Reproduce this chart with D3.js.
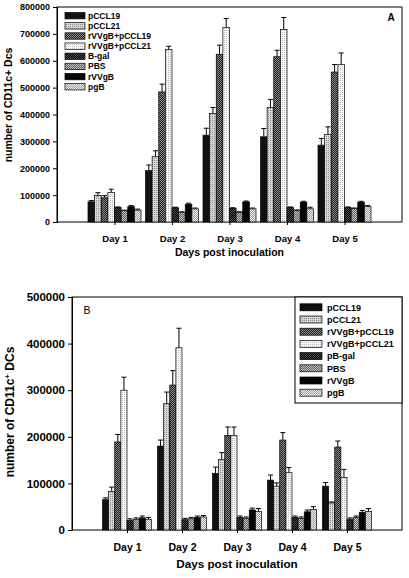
<!DOCTYPE html>
<html><head><meta charset="utf-8">
<script src="https://cdn.jsdelivr.net/npm/d3@7"></script>
<style>body{margin:0;background:#fff}svg{display:block}text{font-family:"Liberation Sans",Arial,sans-serif;font-weight:bold;fill:#000}</style>
</head><body><svg id="c" width="409" height="578"></svg>
<script>
const days = ["Day 1","Day 2","Day 3","Day 4","Day 5"];
const seriesA = ["pCCL19","pCCL21","rVVgB+pCCL19","rVVgB+pCCL21","B-gal","PBS","rVVgB","pgB"];
const seriesB = ["pCCL19","pCCL21","rVVgB+pCCL19","rVVgB+pCCL21","pB-gal","PBS","rVVgB","pgB"];
const ticksA = [0,100000,200000,300000,400000,500000,600000,700000,800000];
const ticksB = [0,100000,200000,300000,400000,500000];

// Panel A means and SEM, one array per series
const meanA_pCCL19 = [75000,191000,323000,317000,286000];
const meanA_pCCL21 = [99000,243000,404000,426000,326000];
const meanA_rVVgBpCCL19 = [90000,484000,624000,615000,558000];
const meanA_rVVgBpCCL21 = [110000,642000,724000,716000,586000];
const meanA_Bgal = [54000,53000,51000,54000,54000];
const meanA_PBS = [42000,36000,36000,43000,50000];
const meanA_rVVgB = [57000,66000,75000,74000,74000];
const meanA_pgB = [44000,49000,49000,49000,57000];
const errA_pCCL19 = [5000,21000,26000,31000,25000];
const errA_pCCL21 = [10000,22000,22000,30000,28000];
const errA_rVVgBpCCL19 = [8000,29000,34000,24000,28000];
const errA_rVVgBpCCL21 = [12000,12000,33000,45000,43000];
const errA_Bgal = [2000,2000,2000,2000,2000];
const errA_PBS = [2000,2000,2000,2000,2000];
const errA_rVVgB = [4000,4000,3000,3000,3000];
const errA_pgB = [4000,3000,3000,6000,4000];

// Panel B
const meanB_pCCL19 = [65000,180000,121000,107000,94000];
const meanB_pCCL21 = [83000,271000,151000,94000,58000];
const meanB_rVVgBpCCL19 = [189000,311000,203000,193000,178000];
const meanB_rVVgBpCCL21 = [300000,391000,203000,123000,113000];
const meanB_pBgal = [21000,22000,27000,27000,23000];
const meanB_PBS = [23000,24000,25000,25000,27000];
const meanB_rVVgB = [26000,27000,43000,39000,38000];
const meanB_pgB = [23000,28000,40000,44000,40000];
const errB_pCCL19 = [4000,13000,14000,11000,8000];
const errB_pCCL21 = [9000,25000,15000,7000,2000];
const errB_rVVgBpCCL19 = [16000,31000,18000,16000,13000];
const errB_rVVgBpCCL21 = [28000,42000,18000,11000,17000];
const errB_pBgal = [3000,3000,3000,3000,3000];
const errB_PBS = [3000,3000,3000,3000,3000];
const errB_rVVgB = [4000,3000,4000,4000,4000];
const errB_pgB = [4000,3000,6000,6000,6000];

const meansA = [meanA_pCCL19,meanA_pCCL21,meanA_rVVgBpCCL19,meanA_rVVgBpCCL21,meanA_Bgal,meanA_PBS,meanA_rVVgB,meanA_pgB];
const errsA = [errA_pCCL19,errA_pCCL21,errA_rVVgBpCCL19,errA_rVVgBpCCL21,errA_Bgal,errA_PBS,errA_rVVgB,errA_pgB];
const meansB = [meanB_pCCL19,meanB_pCCL21,meanB_rVVgBpCCL19,meanB_rVVgBpCCL21,meanB_pBgal,meanB_PBS,meanB_rVVgB,meanB_pgB];
const errsB = [errB_pCCL19,errB_pCCL21,errB_rVVgBpCCL19,errB_rVVgBpCCL21,errB_pBgal,errB_PBS,errB_rVVgB,errB_pgB];

const svg = d3.select("#c");
const defs = svg.append("defs");
// fill patterns
const pats = [
  {id:"p0", type:"solid", c1:"#111"},
  {id:"p1", type:"dot", c1:"#d8d8d8", c2:"#8a8a8a"},
  {id:"p2", type:"check", c1:"#1e1e1e", c2:"#8c8c8c"},
  {id:"p3", type:"dot", c1:"#fafafa", c2:"#b8b8b8"},
  {id:"p4", type:"check", c1:"#000", c2:"#4a4a4a"},
  {id:"p5", type:"check", c1:"#5a5a5a", c2:"#c8c8c8"},
  {id:"p6", type:"solid", c1:"#050505"},
  {id:"p7", type:"check", c1:"#9a9a9a", c2:"#f4f4f4"}
];
pats.forEach(p=>{
  if(p.type==="solid") return;
  const pt = defs.append("pattern").attr("id",p.id).attr("patternUnits","userSpaceOnUse")
    .attr("width",2).attr("height",2);
  pt.append("rect").attr("width",2).attr("height",2).attr("fill",p.c1);
  if(p.type==="check"){
    pt.append("rect").attr("x",0).attr("y",0).attr("width",1).attr("height",1).attr("fill",p.c2);
    pt.append("rect").attr("x",1).attr("y",1).attr("width",1).attr("height",1).attr("fill",p.c2);
  } else {
    pt.append("rect").attr("x",0).attr("y",0).attr("width",1).attr("height",1).attr("fill",p.c2);
  }
});
const fillOf = i => pats[i].type==="solid" ? pats[i].c1 : `url(#${pats[i].id})`;

function panel(cfg){
  const {x0,x1,y0,y1,ymax,ticks,means,errs,series,groupW,tickFont,dayFont,titleFont} = cfg;
  const g = svg.append("g");
  const x = d3.scaleLinear().domain([0,6]).range([x0,x1]);
  const y = d3.scaleLinear().domain([0,ymax]).range([y1,y0]);
  const inner = d3.scaleBand().domain(series).range([-groupW/2,groupW/2]).padding(0);
  // frame
  g.append("rect").attr("x",x0).attr("y",y0).attr("width",x1-x0).attr("height",y1-y0)
    .attr("fill","none").attr("stroke","#000").attr("stroke-width",1);
  // y axis
  const ya = g.append("g").attr("transform",`translate(${x0},0)`)
    .call(d3.axisLeft(y).tickValues(ticks).tickFormat(d3.format("d")).tickSize(4).tickPadding(3));
  ya.select(".domain").attr("stroke","#000");
  ya.selectAll("text").style("font-size",tickFont+"px").style("font-family","Liberation Sans, Arial").style("font-weight","bold");
  // x axis
  const xa = g.append("g").attr("transform",`translate(0,${y1})`)
    .call(d3.axisBottom(x).tickValues([1,2,3,4,5]).tickFormat(d=>days[d-1]).tickSize(3).tickPadding(cfg.dayPad));
  xa.select(".domain").remove();
  xa.selectAll("text").style("font-size",dayFont+"px").style("font-family","Liberation Sans, Arial").style("font-weight","bold");
  // bars
  series.forEach((s,si)=>{
    const bw = inner.bandwidth();
    days.forEach((d,di)=>{
      const cx = x(di+1)+inner(s);
      const v = means[si][di], e = errs[si][di];
      g.append("line").attr("x1",cx+bw/2).attr("x2",cx+bw/2).attr("y1",y(v)).attr("y2",y(v+e))
        .attr("stroke","#000").attr("stroke-width",1);
      g.append("line").attr("x1",cx+bw/2-2.5).attr("x2",cx+bw/2+2.5).attr("y1",y(v+e)).attr("y2",y(v+e))
        .attr("stroke","#000").attr("stroke-width",1);
      g.append("rect").attr("x",cx).attr("y",y(v)).attr("width",bw).attr("height",y1-y(v))
        .attr("fill",fillOf(si)).attr("stroke","#000").attr("stroke-width",0.7);
    });
  });
  g.append("text").attr("x",(x0+x1)/2).attr("y",cfg.xTitleY).attr("text-anchor","middle")
    .style("font-size",titleFont+"px").text("Days post inoculation");
  return {g,x,y};
}

// Panel A
const A = panel({x0:57,x1:402,y0:7,y1:222,ymax:800000,ticks:ticksA,means:meansA,errs:errsA,series:seriesA,
  groupW:53,tickFont:9,dayFont:9.5,titleFont:10.5,dayPad:10,xTitleY:256});
A.g.append("text").attr("transform","translate(12,105) rotate(-90)").attr("text-anchor","middle")
  .style("font-size","10.5px").text("number of CD11c+ Dcs");
A.g.append("text").attr("x",391).attr("y",21).attr("text-anchor","middle").style("font-size","10px").text("A");
seriesA.forEach((s,i)=>{
  const yy = 15.7 + i*10.15;
  A.g.append("rect").attr("x",65).attr("y",yy-3.2).attr("width",20).attr("height",6.4)
    .attr("fill",fillOf(i)).attr("stroke","#000").attr("stroke-width",0.7);
  A.g.append("text").attr("x",88).attr("y",yy+3).style("font-size","8.5px").text(s);
});

// Panel B
const B = panel({x0:72,x1:402,y0:297,y1:530,ymax:500000,ticks:ticksB,means:meansB,errs:errsB,series:seriesB,
  groupW:49,tickFont:11.5,dayFont:10.5,titleFont:11.7,dayPad:11,xTitleY:568});
const yt = B.g.append("text").attr("transform","translate(14,412) rotate(-90)").attr("text-anchor","middle")
  .style("font-size","12px");
yt.append("tspan").text("number of CD11c");
yt.append("tspan").attr("baseline-shift","super").style("font-size","8px").text("+");
yt.append("tspan").text(" DCs");
B.g.append("text").attr("x",87).attr("y",314).attr("text-anchor","middle").style("font-size","10.5px").style("font-weight","normal").text("B");
B.g.append("rect").attr("x",295).attr("y",297).attr("width",107).attr("height",106)
  .attr("fill","#fff").attr("stroke","#000").attr("stroke-width",1);
seriesB.forEach((s,i)=>{
  const yy = 307.3 + i*12.2;
  B.g.append("rect").attr("x",300).attr("y",yy-3.5).attr("width",22).attr("height",7)
    .attr("fill",fillOf(i)).attr("stroke","#000").attr("stroke-width",0.7);
  B.g.append("text").attr("x",327).attr("y",yy+3.3).style("font-size","9px").text(s);
});
</script></body></html>
